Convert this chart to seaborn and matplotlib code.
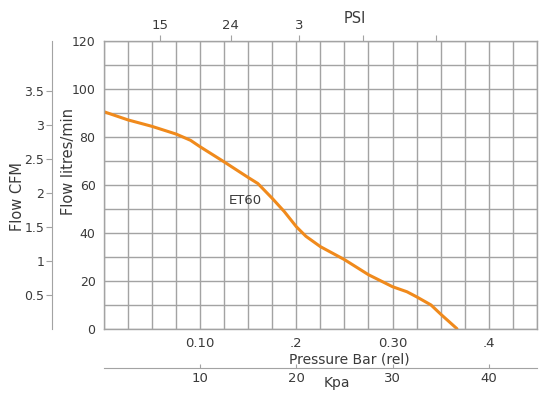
import numpy as np
import pandas as pd
import matplotlib
matplotlib.use('Agg')
import matplotlib.pyplot as plt
import seaborn as sns

# ET60 curve
pressure_bar = [0, 0.025, 0.05, 0.075, 0.09, 0.10, 0.125, 0.15, 0.16, 0.175, 0.1875,
                0.20, 0.21, 0.225, 0.25, 0.275, 0.30, 0.315, 0.325, 0.34, 0.35, 0.367]
flow_lpm = [90.4, 87.0, 84.3, 81.1, 78.5, 75.8, 69.5, 63.0, 60.5, 54.3, 48.8,
            42.5, 38.5, 34.2, 28.8, 22.5, 17.5, 15.4, 13.3, 9.9, 6.1, 0]

bar_labels = {0.10: '0.10', 0.20: '.2', 0.30: '0.30', 0.40: '.4'}
flow_labels = [0, 20, 40, 60, 80, 100, 120]
cfm_ticks = [0.5, 1, 1.5, 2, 2.5, 3, 3.5]
kpa_ticks = [10, 20, 30, 40]
psi_pos = [0.0583, 0.132, 0.203, 0.269, 0.345]
psi_labels = ['15', '24', '3', '', '']

LPM_PER_CFM = 28.317
TEXT = '#3a3a3a'
GRID = '#a3a3a3'
ORANGE = '#f08a1c'

sns.set_style('white')
plt.rcParams['font.family'] = ['DejaVu Sans']
plt.rcParams['text.color'] = TEXT
plt.rcParams['axes.labelcolor'] = TEXT
plt.rcParams['xtick.color'] = TEXT
plt.rcParams['ytick.color'] = TEXT

df = pd.DataFrame({'bar': pressure_bar, 'flow': flow_lpm})

fig = plt.figure(figsize=(5.5, 3.97), dpi=100)
ax = fig.add_axes([0.189, 0.172, 0.787, 0.7255])

sns.lineplot(data=df, x='bar', y='flow', ax=ax, color=ORANGE, lw=2.2,
             solid_joinstyle='round', solid_capstyle='round')

ax.set_xlim(0, 0.45)
ax.set_ylim(0, 120)

# grid: every 0.025 bar and every 10 l/min
xt = np.round(np.arange(0, 0.451, 0.025), 3)
ax.set_xticks(xt)
ax.set_xticklabels([bar_labels.get(round(v, 3), '') for v in xt])
yt = np.arange(0, 121, 10)
ax.set_yticks(yt)
ax.set_yticklabels([str(v) if v in flow_labels else '' for v in yt])
ax.grid(True, color=GRID, lw=1)
ax.tick_params(axis='x', length=0, labelsize=9.5, pad=6)
ax.tick_params(axis='y', length=0, labelsize=9, pad=6)
for s in ax.spines.values():
    s.set_color(GRID)
    s.set_linewidth(1)

ax.set_xlabel('')
ax.set_ylabel('Flow litres/min', fontsize=10.5)
ax.yaxis.set_label_coords(-0.064, 0.579)

# PSI scale on top
top = ax.secondary_xaxis('top')
top.set_xticks(psi_pos)
top.set_xticklabels(psi_labels)
top.tick_params(length=4, color=GRID, labelsize=9.5, pad=2)
top.spines['top'].set_visible(False)
ax.text(0.58, 1.078, 'PSI', transform=ax.transAxes, ha='center', va='center', fontsize=10.5)

# CFM scale on the left
cfm = ax.secondary_yaxis(-0.119, functions=(lambda f: f / LPM_PER_CFM, lambda c: c * LPM_PER_CFM))
cfm.set_yticks(cfm_ticks)
cfm.set_yticklabels([f'{v:g}' for v in cfm_ticks])
cfm.tick_params(length=4, color=GRID, labelsize=9, pad=2)
cfm.spines['left'].set_color(GRID)
ax.text(-0.2, 0.46, 'Flow CFM', transform=ax.transAxes, rotation=90,
        ha='center', va='center', fontsize=10.5)

# Kpa scale below
kpa = ax.secondary_xaxis(-0.1375, functions=(lambda b: b * 100, lambda k: k / 100))
kpa.set_xticks(kpa_ticks)
kpa.tick_params(direction='in', length=3, color=GRID, labelsize=9.5, pad=3)
kpa.spines['bottom'].set_color(GRID)

ax.text(0.566, -0.107, 'Pressure Bar (rel)', transform=ax.transAxes,
        ha='center', va='center', fontsize=10)
ax.text(0.537, -0.19, 'Kpa', transform=ax.transAxes, ha='center', va='center', fontsize=10)
ax.text(0.147, 53.6, 'ET60', ha='center', va='center', fontsize=9.5)

fig.savefig('out.png', dpi=100)
